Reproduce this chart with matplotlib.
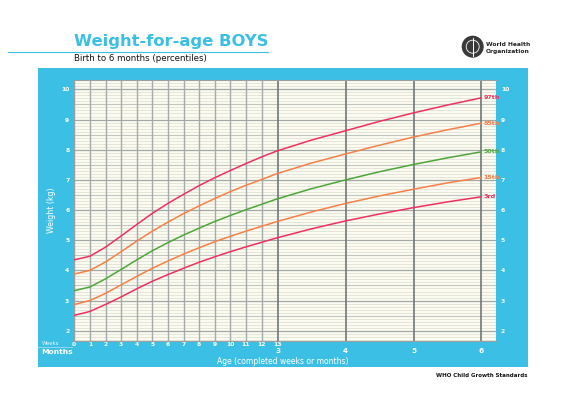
import matplotlib
matplotlib.use("Agg")
import matplotlib.pyplot as plt
import numpy as np
from matplotlib.patches import Rectangle, Ellipse
from matplotlib.lines import Line2D

W, H = 566, 400

# ---- data ----
week_labels = [str(i) for i in range(14)]
month_labels = ["3", "4", "5", "6"]
# ages: weeks 0..13, then months 3.5..6 (expressed in days)
weeks = list(range(14))
months_extra = [3.5, 4.0, 4.5, 5.0, 5.5, 6.0]
p97 = [4.35, 4.47, 4.77, 5.14, 5.52, 5.89, 6.22, 6.52, 6.81, 7.07, 7.31, 7.54, 7.76, 7.96,
       8.32, 8.63, 8.94, 9.22, 9.48, 9.72]
p85 = [3.88, 4.00, 4.28, 4.62, 4.97, 5.30, 5.60, 5.88, 6.14, 6.38, 6.61, 6.82, 7.01, 7.21,
       7.56, 7.86, 8.15, 8.42, 8.66, 8.88]
p50 = [3.33, 3.45, 3.72, 4.03, 4.35, 4.65, 4.92, 5.17, 5.40, 5.62, 5.82, 6.01, 6.19, 6.37,
       6.71, 7.00, 7.27, 7.51, 7.73, 7.93]
p15 = [2.87, 3.00, 3.24, 3.52, 3.80, 4.07, 4.31, 4.54, 4.75, 4.95, 5.13, 5.30, 5.46, 5.62,
       5.94, 6.22, 6.47, 6.69, 6.90, 7.08]
p3 = [2.51, 2.64, 2.87, 3.12, 3.39, 3.64, 3.86, 4.07, 4.27, 4.45, 4.62, 4.78, 4.93, 5.08,
      5.38, 5.64, 5.87, 6.08, 6.27, 6.44]
pct_labels = ["97th", "85th", "50th", "15th", "3rd"]

DAYS_PER_MONTH = 30.4375
ages = [w * 7 for w in weeks] + [m * DAYS_PER_MONTH for m in months_extra]

BLUE = "#3bbfe5"
RED = "#ee3160"
ORANGE = "#f78049"
GREEN = "#4ea63a"
colors = [RED, ORANGE, GREEN, ORANGE, RED]

def fx(x):
    return x / W

def fy(y):
    return 1 - y / H

fig = plt.figure(figsize=(W / 100, H / 100), dpi=100)
fig.patch.set_facecolor("white")

# blue panel
fig.patches.append(Rectangle((fx(37.7), fy(367.3)), (527.7 - 37.7) / W, (367.3 - 67.7) / H,
                             transform=fig.transFigure, facecolor=BLUE, edgecolor="none", zorder=0))

# main axes
ax = fig.add_axes([fx(74.3), fy(340.7), (496 - 74.3) / W, (340.7 - 80) / H])
ax.set_facecolor("#fbfbf2")
ax.set_zorder(2)
x_max = 189.2
ax.set_xlim(0, x_max)
ax.set_ylim(1.67, 10.31)

# horizontal grid
for t in range(17, 104):
    v = t / 10
    if t % 10 == 0:
        ax.axhline(v, color="#a3a8a4", lw=0.9, zorder=1)
    elif t % 5 == 0:
        ax.axhline(v, color="#c2c5bc", lw=0.8, zorder=1)
    else:
        ax.axhline(v, color="#e2e2d4", lw=0.6, zorder=0.9)

# vertical grid
for w in weeks[:-1]:
    ax.axvline(w * 7, color="#a4abaa", lw=1.0, zorder=1.2)
for m in [3, 4, 5, 6]:
    ax.axvline(m * DAYS_PER_MONTH, color="#6f7878", lw=1.2, zorder=1.3)

# curves
series = [p97, p85, p50, p15, p3]
for vals, c, lab in zip(series, colors, pct_labels):
    ax.plot(ages, vals, color=c, lw=1.1, zorder=3, solid_capstyle="round")
    ax.annotate(lab, (ages[-1], vals[-1]), xytext=(1.3, 0), textcoords="offset points",
                ha="left", va="center", color=c, fontsize=4.6, fontweight="bold", zorder=4,
                annotation_clip=False)

for s in ["right"]:
    ax.spines[s].set_visible(False)
for s in ["top", "bottom", "left"]:
    ax.spines[s].set_color("#9aa0a0")
    ax.spines[s].set_linewidth(0.8)

# ticks
ax.set_xticks([w * 7 for w in weeks], labels=week_labels)
ax.tick_params(axis="x", length=0, pad=0.8, labelsize=4.3, labelcolor="white")
ax.set_yticks(range(2, 11), labels=[str(i) for i in range(2, 11)])
ax.tick_params(axis="y", length=0, pad=3.6, labelsize=4.3, labelcolor="white",
               labelleft=True, labelright=True)
for lbl in ax.get_yticklabels() + ax.get_xticklabels():
    lbl.set_fontweight("bold")

sec = ax.secondary_xaxis("bottom")
sec.set_xticks([int(m) * DAYS_PER_MONTH for m in month_labels], labels=month_labels)
sec.tick_params(length=0, pad=5.6, labelsize=5.2, labelcolor="white")
for lbl in sec.get_xticklabels():
    lbl.set_fontweight("bold")
for s in sec.spines.values():
    s.set_visible(False)

# axis labels
fig.text(fx(283), fy(361.5), "Age (completed weeks or months)", color="white",
         fontsize=5.5, ha="center", va="center")
fig.text(fx(51.5), fy(210), "Weight (kg)", color="white", fontsize=5.7, rotation=90,
         ha="center", va="center")
fig.text(fx(41.7), fy(343.3), "Weeks", color="#e6f6fc", fontsize=3.9, ha="left", va="center")
fig.text(fx(41.7), fy(351.7), "Months", color="white", fontsize=5.4, fontweight="bold",
         ha="left", va="center")
fig.add_artist(Line2D([fx(37.7), fx(71.7)], [fy(346.5), fy(346.5)], color="#9fdff2", lw=0.6))

# titles
fig.text(fx(73.5), fy(46), "Weight-for-age BOYS", color=BLUE, fontsize=11.8,
         fontweight="bold", ha="left", va="baseline")
fig.add_artist(Line2D([fx(8), fx(268)], [fy(52.3), fy(52.3)], color=BLUE, lw=0.8))
fig.text(fx(74), fy(58.7), "Birth to 6 months (percentiles)", color="#111111", fontsize=6.2,
         ha="left", va="center")

# WHO logo
fig.add_artist(Ellipse((fx(472.7), fy(46.7)), 22 / W, 22 / H, transform=fig.transFigure,
                       facecolor="#3a3a3a", edgecolor="none"))
fig.add_artist(Ellipse((fx(472.7), fy(46.7)), 13 / W, 13 / H, transform=fig.transFigure,
                       facecolor="none", edgecolor="white", lw=0.6))
fig.add_artist(Line2D([fx(472.7), fx(472.7)], [fy(38), fy(56)], color="white", lw=0.7))
fig.text(fx(486), fy(44), "World Health", color="#222222", fontsize=4.3, fontweight="bold",
         ha="left", va="center")
fig.text(fx(486), fy(51.2), "Organization", color="#222222", fontsize=4.3, fontweight="bold",
         ha="left", va="center")

fig.text(fx(527.5), fy(375.7), "WHO Child Growth Standards", color="#111111", fontsize=4.0,
         fontweight="bold", ha="right", va="center")

fig.savefig("out.png", dpi=100)
